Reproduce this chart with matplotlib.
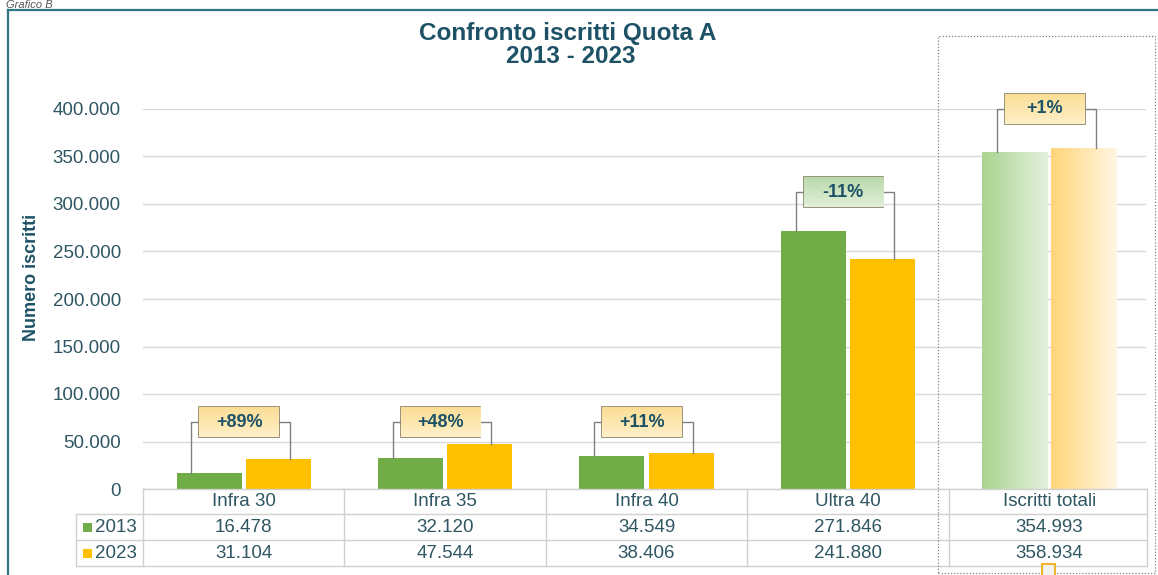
import numpy as np
import matplotlib
matplotlib.use("Agg")
import matplotlib.pyplot as plt
from matplotlib.patches import Rectangle
from matplotlib.lines import Line2D
from matplotlib.colors import to_rgb
from matplotlib.transforms import blended_transform_factory

plt.rcParams['font.family'] = ['Liberation Sans', 'DejaVu Sans']

# ---------------- data ----------------
categories = ["Infra 30", "Infra 35", "Infra 40", "Ultra 40", "Iscritti totali"]
years = ["2013", "2023"]
values_2013 = [16478, 32120, 34549, 271846, 354993]
values_2023 = [31104, 47544, 38406, 241880, 358934]
bracket_levels = [70500, 70500, 70500, 312500, 400000]
yticks = [0, 50000, 100000, 150000, 200000, 250000, 300000, 350000, 400000]

# ---------------- styles ----------------
W, H = 1158, 575
GREEN = "#70ad47"
YELLOW = "#ffc000"
TXT = "#2f5663"
TITLE_C = "#1d5266"
GRID = "#d9d9d9"
TABLE_LINE = "#d0d0d0"


def fx(px):
    return px / W


def fy(py):
    return 1 - py / H


def fmt(v):
    return f"{v:,}".replace(",", ".") if v else "0"


fig = plt.figure(figsize=(W / 100, H / 100), dpi=100)
fig.patch.set_facecolor("white")

ax_l, ax_r, ax_t, ax_b = 143, 1150, 109, 489
ax = fig.add_axes([fx(ax_l), fy(ax_b), fx(ax_r - ax_l), (ax_b - ax_t) / H])
ax.set_facecolor("none")

x = np.arange(len(categories))
bw = 0.323
off = 0.172

ax.set_xlim(-0.5, len(categories) - 0.5)
ax.set_ylim(0, 400000)
ax.set_yticks(yticks)
ax.set_yticklabels([fmt(v) for v in yticks], color=TXT, fontsize=13.5)
ax.tick_params(axis="y", length=0, pad=16)
ax.set_xticks([])
for s in ax.spines.values():
    s.set_visible(False)
for v in yticks:
    ax.axhline(v, color=GRID, lw=1, zorder=0, xmax=0.995)


def gradient_fill(patch, c0, c1, horizontal=True):
    t = np.linspace(0, 1, 256)
    a, b = np.array(to_rgb(c0)), np.array(to_rgb(c1))
    img = a[None, :] * (1 - t[:, None]) + b[None, :] * t[:, None]
    if horizontal:
        img = img[None, :, :]
    else:
        img = img[::-1][:, None, :]
    x0, y0 = patch.get_x(), patch.get_y()
    w, h = patch.get_width(), patch.get_height()
    im = ax.imshow(img, extent=[x0, x0 + w, y0, y0 + h], aspect="auto",
                   zorder=patch.get_zorder(), interpolation="bilinear")
    im.set_clip_path(patch)
    im.set_clip_on(True)
    return im


n = len(categories)
# regular bars
b1 = ax.bar(x[:-1] - off, values_2013[:-1], bw, color=GREEN, zorder=2)
b2 = ax.bar(x[:-1] + off, values_2023[:-1], bw, color=YELLOW, zorder=2)
# totals bars with gradient
t1 = ax.bar([x[-1] - off], [values_2013[-1]], bw, facecolor="none", edgecolor="none", zorder=2)
t2 = ax.bar([x[-1] + off], [values_2023[-1]], bw, facecolor="none", edgecolor="none", zorder=2)
gradient_fill(t1[0], "#a9d48f", "#e4f0de")
gradient_fill(t2[0], "#ffd577", "#fff6e4")

# brackets with percentage boxes
box_h = 31000
for i in range(n):
    v0, v1 = values_2013[i], values_2023[i]
    pct = round((v1 / v0 - 1) * 100)
    label = f"{pct:+d}%"
    lvl = bracket_levels[i]
    xl, xr = x[i] - 0.26, x[i] + 0.23
    bl, br = x[i] - 0.22, x[i] + 0.175
    lc = "#808080"
    ax.add_line(Line2D([xl, xl, bl], [v0, lvl, lvl], color=lc, lw=1, zorder=3, clip_on=False))
    ax.add_line(Line2D([br, xr, xr], [lvl, lvl, v1], color=lc, lw=1, zorder=3, clip_on=False))
    box = Rectangle((bl, lvl - box_h / 2), br - bl, box_h, facecolor="none",
                    edgecolor="#8a7f66", lw=1.2, zorder=5, clip_on=False)
    ax.add_patch(box)
    if pct < 0:
        gradient_fill(box, "#e2f0da", "#b9d9a9", horizontal=False)
    else:
        gradient_fill(box, "#fff0c8", "#fbdd95", horizontal=False)
    ax.text((bl + br) / 2, lvl, label, ha="center", va="center", fontsize=13,
            fontweight="bold", color=TITLE_C, zorder=6)

ax.set_xlim(-0.5, n - 0.5)
ax.set_ylim(0, 400000)

# ---------------- data table ----------------
tr = blended_transform_factory(ax.transData, ax.transAxes)


def ay(py):
    return (ax_b - py) / (ax_b - ax_t)


rows_px = [489, 514, 540, 566]
lab_left = (76 - ax_l) / ((ax_r - ax_l) / n) - 0.5
right_edge = n - 0.5 - 0.015
edges = [-0.5 + k for k in range(n)] + [right_edge]

ax.add_line(Line2D([-0.5, right_edge], [ay(489)] * 2, transform=tr, color=TABLE_LINE, lw=1, clip_on=False))
for py in rows_px[1:]:
    ax.add_line(Line2D([lab_left, right_edge], [ay(py)] * 2, transform=tr, color=TABLE_LINE, lw=1, clip_on=False))
for e in edges:
    ax.add_line(Line2D([e, e], [ay(489), ay(566)], transform=tr, color=TABLE_LINE, lw=1, clip_on=False))
ax.add_line(Line2D([lab_left, lab_left], [ay(514), ay(566)], transform=tr, color=TABLE_LINE, lw=1, clip_on=False))

row_centers = [(rows_px[k] + rows_px[k + 1]) / 2 for k in range(3)]
for i, c in enumerate(categories):
    ax.text(x[i], ay(row_centers[0]), c, transform=tr, ha="center", va="center",
            fontsize=13.5, color=TXT, clip_on=False)
    ax.text(x[i], ay(row_centers[1]), fmt(values_2013[i]), transform=tr, ha="center",
            va="center", fontsize=13.5, color=TXT, clip_on=False)
    ax.text(x[i], ay(row_centers[2]), fmt(values_2023[i]), transform=tr, ha="center",
            va="center", fontsize=13.5, color=TXT, clip_on=False)

for k, (yr, col) in enumerate(zip(years, [GREEN, YELLOW])):
    cy = row_centers[k + 1]
    fig.add_artist(Rectangle((fx(83), fy(cy + 5)), fx(9), 9 / H, transform=fig.transFigure,
                             facecolor=col, edgecolor="none"))
    fig.text(fx(95), fy(cy), yr, ha="left", va="center", fontsize=13.5, color=TXT)

# ---------------- titles / labels ----------------
fig.text(fx(568), fy(40), "Confronto iscritti Quota A", ha="center", va="baseline",
         fontsize=17.5, fontweight="bold", color=TITLE_C)
fig.text(fx(571), fy(63), "2013 - 2023", ha="center", va="baseline",
         fontsize=17.5, fontweight="bold", color=TITLE_C)
fig.text(fx(31), fy(277), "Numero iscritti", rotation=90, ha="center", va="center",
         fontsize=13, fontweight="bold", color=TITLE_C)
fig.text(fx(6), fy(0.5), "Grafico B", ha="left", va="top", fontsize=8,
         style="italic", color="#555555")

# outer frame
fig.add_artist(Line2D([fx(8), fx(8)], [fy(10), fy(580)], transform=fig.transFigure,
                      color="#2f7584", lw=1.6))
fig.add_artist(Line2D([fx(8), fx(1160)], [fy(10), fy(10)], transform=fig.transFigure,
                      color="#2f7584", lw=1.6))

# dotted selection box around totals
fig.add_artist(Rectangle((fx(938), fy(573)), fx(1155 - 938), (573 - 36) / H,
                         transform=fig.transFigure, facecolor="none", edgecolor="#808080",
                         lw=0.9, linestyle=(0, (1, 1.5))))
fig.add_artist(Rectangle((fx(1042), fy(576)), fx(13), 12 / H, transform=fig.transFigure,
                         facecolor="#f3f3f3", edgecolor="#f0b429", lw=1.5))

fig.savefig("out.png", dpi=100)
